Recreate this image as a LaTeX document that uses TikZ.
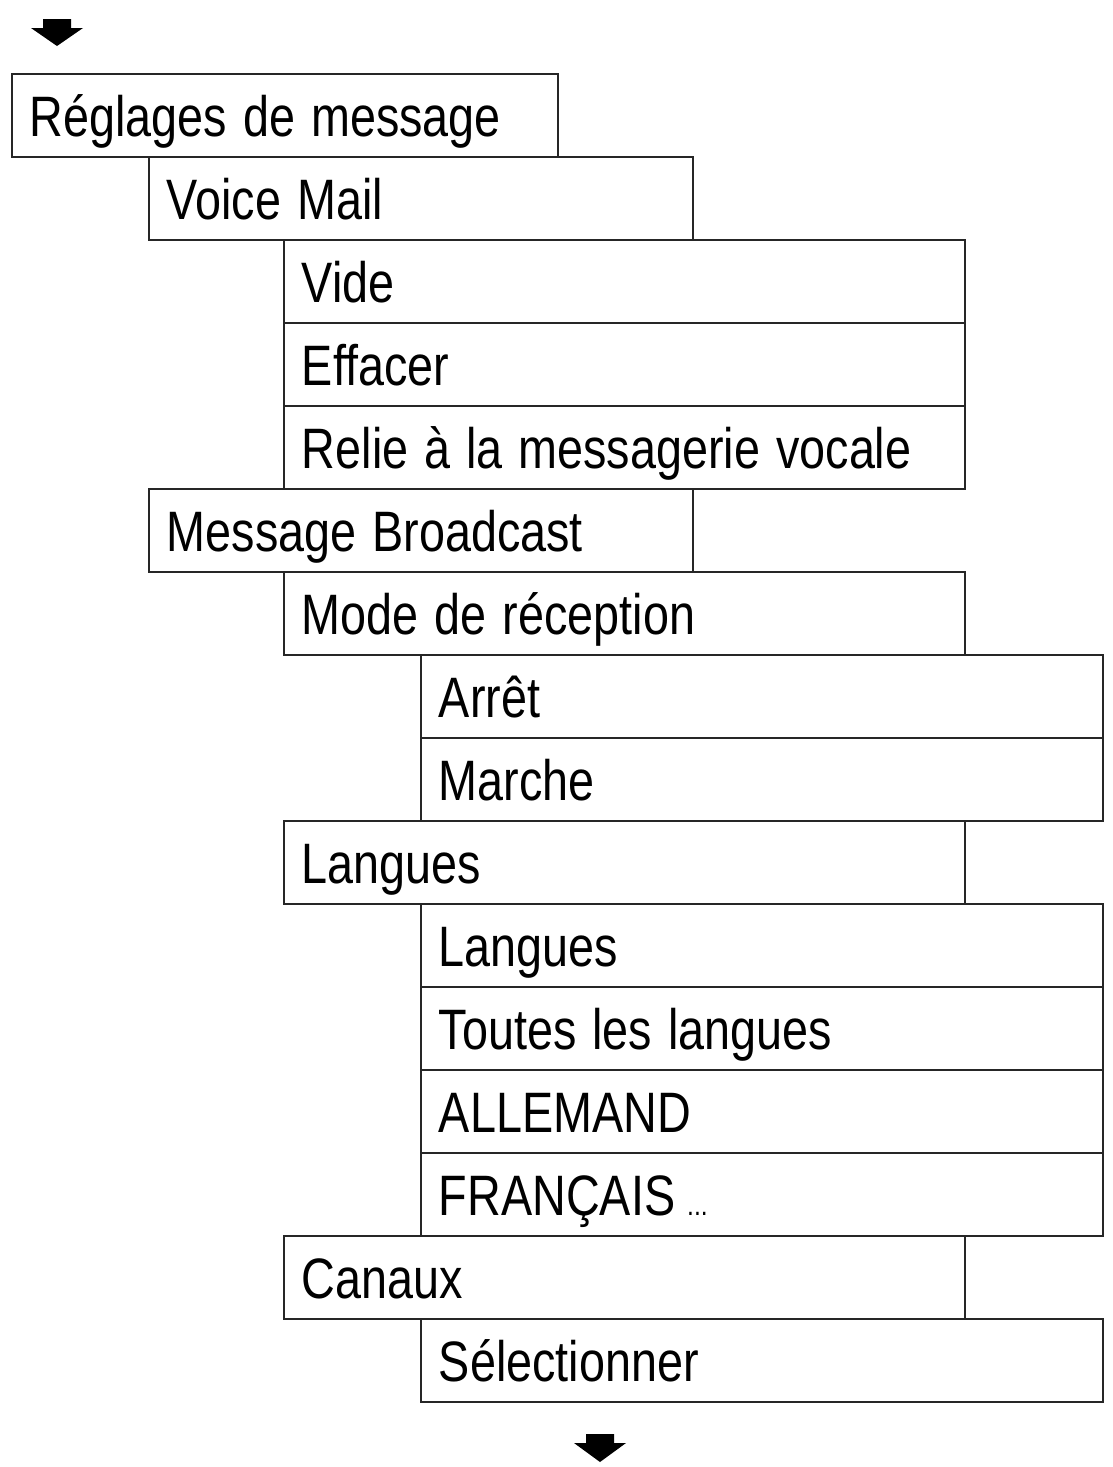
\documentclass[tikz,border=0pt]{standalone}
\usepackage{fontspec}
\setmainfont{Liberation Sans}[FakeStretch=0.82]
\newcommand\wsp{\hspace*{16pt}}
\begin{document}
\begin{tikzpicture}[x=1pt, y=-1pt,
  menubox/.style={draw=black!85, line width=1.8pt, rectangle, anchor=north west,
    inner xsep=18pt, inner ysep=0pt, text height=63pt, text depth=20pt,
    align=left, font={\fontsize{57}{60}\selectfont}},
  w0/.style={text width=510pt},
  w1/.style={text width=508pt},
  w2/.style={text width=645pt},
  w3/.style={text width=646pt},
  blockarrow/.style={fill=black, draw=none}]
\useasboundingbox (0,0) rectangle (1112,1467);
\fill[white] (0,0) rectangle (1112,1467);
% menu boxes
\node[menubox,w0] (b0)  at (11,73)   {Réglages\wsp de\wsp message};
\node[menubox,w1] (b1)  at (148,156) {Voice\wsp Mail};
\node[menubox,w2] (b2)  at (283,239) {Vide};
\node[menubox,w2] (b3)  at (283,322) {Effacer};
\node[menubox,w2] (b4)  at (283,405) {Relie\wsp à\wsp la\wsp messagerie\wsp vocale};
\node[menubox,w1] (b5)  at (148,488) {Message\wsp Broadcast};
\node[menubox,w2] (b6)  at (283,571) {Mode\wsp de\wsp réception};
\node[menubox,w3] (b7)  at (420,654) {Arrêt};
\node[menubox,w3] (b8)  at (420,737) {Marche};
\node[menubox,w2] (b9)  at (283,820) {Langues};
\node[menubox,w3] (b10) at (420,903) {Langues};
\node[menubox,w3] (b11) at (420,986) {Toutes\wsp les\wsp langues};
\node[menubox,w3] (b12) at (420,1069) {ALLEMAND};
\node[menubox,w3] (b13) at (420,1152) {FRANÇAIS\hspace*{12pt}{\fontsize{30}{30}\selectfont ...}};
\node[menubox,w2] (b14) at (283,1235) {Canaux};
\node[menubox,w3] (b15) at (420,1318) {Sélectionner};
% arrows
\coordinate (topArrow) at (57,19);
\coordinate (botArrow) at (600,1434);
\fill[blockarrow] (topArrow) ++(-14,0) -- ++(28,0) -- ++(0,9) -- ++(12,0) -- ++(-26,18) -- ++(-26,-18) -- ++(12,0) -- cycle;
\fill[blockarrow] (botArrow) ++(-14,0) -- ++(28,0) -- ++(0,9) -- ++(12,0) -- ++(-26,19) -- ++(-26,-19) -- ++(12,0) -- cycle;
\end{tikzpicture}
\end{document}
